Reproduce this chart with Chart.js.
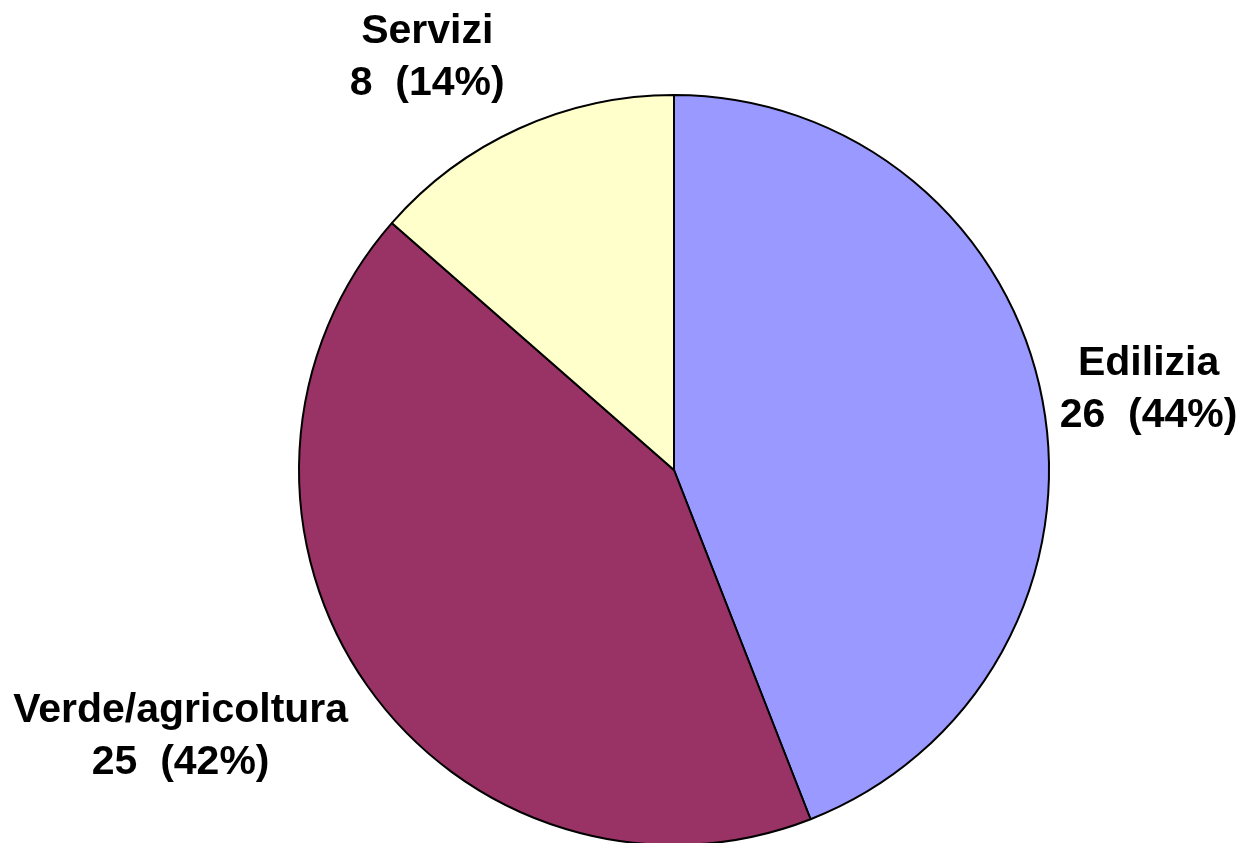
<!DOCTYPE html>
<html><head><meta charset="utf-8">
<script src="https://cdn.jsdelivr.net/npm/chart.js@4/dist/chart.umd.min.js"></script>
<style>
html,body{margin:0;padding:0;background:#fff;overflow:hidden;}
#wrap{position:relative;width:1253px;height:850px;}
</style></head>
<body><div id="wrap"><canvas id="c"></canvas></div>
<script>
const categories = ["Edilizia", "Verde/agricoltura", "Servizi"];
const values = [26, 25, 8];
const percents = ["44%", "42%", "14%"];
const colors = ["#9999FF", "#993366", "#FFFFCC"];

// small per-label placement nudges (px), styling only
const labelNudge = [[5, 1], [-38, 13], [-54, -11]];

const labelFont = 'bold 41px "Liberation Sans", Arial, sans-serif';
const labelPlugin = {
  id: 'outLabels',
  afterDatasetsDraw(chart) {
    const ctx = chart.ctx;
    const meta = chart.getDatasetMeta(0);
    ctx.save();
    ctx.font = labelFont;
    ctx.fillStyle = '#000';
    ctx.textAlign = 'center';
    ctx.textBaseline = 'middle';
    const lineH = 52, gap = 14;
    meta.data.forEach((arc, i) => {
      const p = arc.getProps(['x','y','startAngle','endAngle','outerRadius'], true);
      const mid = (p.startAngle + p.endAngle) / 2;
      const lines = [categories[i], values[i] + '  (' + percents[i] + ')'];
      const w = Math.max(...lines.map(t => ctx.measureText(t).width));
      const h = lineH * lines.length;
      const cx = p.x + Math.cos(mid) * (p.outerRadius + gap) + Math.cos(mid) * w / 2 + labelNudge[i][0];
      const cy = p.y + Math.sin(mid) * (p.outerRadius + gap) + Math.sin(mid) * h / 2 + labelNudge[i][1];
      lines.forEach((t, k) => {
        ctx.fillText(t, cx, cy - h / 2 + lineH / 2 + k * lineH);
      });
    });
    ctx.restore();
  }
};

new Chart(document.getElementById('c'), {
  type: 'pie',
  data: {
    labels: categories,
    datasets: [{
      data: values,
      backgroundColor: colors,
      borderColor: '#000',
      borderWidth: 2
    }]
  },
  options: {
    responsive: true,
    maintainAspectRatio: false,
    animation: false,
    layout: { padding: { top: 94, bottom: 4, left: 298, right: 203 } },
    plugins: { legend: { display: false }, tooltip: { enabled: false } }
  },
  plugins: [labelPlugin]
});
</script></body></html>
